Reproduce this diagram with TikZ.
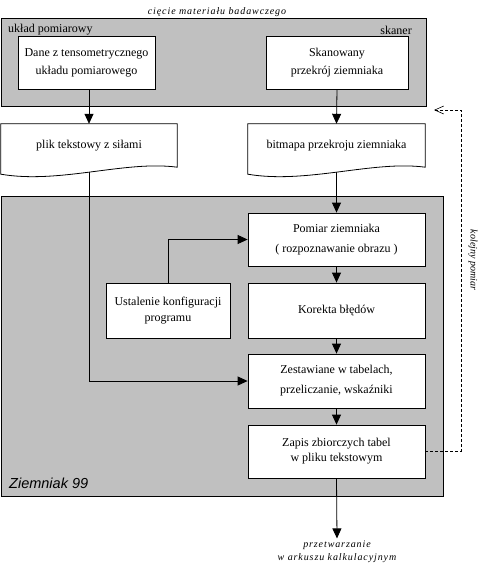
\documentclass[tikz,border=0pt]{standalone}
\usepackage{fontspec}
\setmainfont{Liberation Serif}
\newfontfamily\sansfam{Liberation Sans}
\newfontfamily\spacedit[LetterSpace=9]{Liberation Serif}
\usetikzlibrary{arrows.meta}
\definecolor{panelgray}{HTML}{C0C0C0}
\begin{document}
\begin{tikzpicture}[x=1pt,y=-1pt,
  box/.style={draw, fill=white, line width=0.8pt, inner sep=0pt, align=center, font=\fontsize{12}{18}\selectfont},
  doctext/.style={inner sep=0pt, align=center, font=\fontsize{12}{18}\selectfont, minimum width=176pt, minimum height=43pt},
  docshape/.style={draw, fill=white, line width=0.8pt},
  panel/.style={draw, fill=panelgray, line width=0.8pt, inner sep=0pt},
  arr/.style={line width=0.8pt, -{Triangle[length=10pt,width=9pt]}},
  lbl/.style={font=\spacedit\itshape\fontsize{10}{13}\selectfont, inner sep=2pt},
  plain/.style={font=\fontsize{12}{14}\selectfont, inner sep=0pt}]
\useasboundingbox (0,0) rectangle (486,571);

% panels
\node[panel, minimum width=425pt, minimum height=88pt] (toppanel) at (213.5,62) {};
\node[panel, minimum width=442pt, minimum height=300pt] (lowpanel) at (222,346) {};

% labels on panels
\node[lbl] (cut) at (217,12) {cięcie materiału badawczego};
\node[plain, anchor=west] (ukl) at (8,30) {układ pomiarowy};
\node[plain, anchor=east] (skl) at (412,30) {skaner};
\node[font=\sansfam\itshape\fontsize{14.5}{16}\selectfont, anchor=west, inner sep=0pt] (zl) at (9,483) {Ziemniak 99};

% document text nodes (outline drawn later)
\node[doctext] (plik) at (89,145.5) {};
\node[doctext, minimum width=177pt] (bitmapa) at (336.5,145.5) {};

% boxes
\node[box, minimum width=137pt, minimum height=53pt] (dane) at (86.5,62.5) {Dane z tensometrycznego\\układu pomiarowego};
\node[box, minimum width=142pt, minimum height=53pt] (skan) at (337,62.5) {Skanowany\\przekrój ziemniaka};
\node[box, minimum width=177pt, minimum height=53pt, font=\fontsize{12}{20}\selectfont] (pomiar) at (336.5,239.5) {Pomiar ziemniaka\\( rozpoznawanie obrazu )};
\node[box, minimum width=177pt, minimum height=55pt] (korekta) at (336.5,310.5) {Korekta błędów};
\node[box, minimum width=124pt, minimum height=55pt, font=\fontsize{12}{16}\selectfont] (ust) at (168,310.5) {Ustalenie konfiguracji\\programu};
\node[box, minimum width=177pt, minimum height=54pt, font=\fontsize{12}{20}\selectfont] (zest) at (336.5,381) {Zestawiane w tabelach,\\przeliczanie, wskaźniki};
\node[box, minimum width=177pt, minimum height=53pt, font=\fontsize{12}{15}\selectfont] (zapis) at (336.5,451.5) {Zapis zbiorczych tabel\\w pliku tekstowym};

\node[lbl, align=center] (out) at (337,551.5) {przetwarzanie\\w arkuszu kalkulacyjnym};
\node[font=\itshape\fontsize{10}{13}\selectfont, inner sep=2pt, rotate=-90] (kolejny) at (473,260) {kolejny pomiar};

% connectors
\draw[arr] (dane.south -| plik.north) -- (plik.north);
\draw[arr] (skan.south) -- (bitmapa.north);
\draw[arr] ([yshift=-4pt]plik.south) |- (zest.west);
\draw[arr] ([yshift=-4pt]bitmapa.south) -- (pomiar.north);
\draw[arr] (ust.north) |- (pomiar.west);
\draw[arr] (pomiar.south) -- (korekta.north);
\draw[arr] (korekta.south) -- (zest.north);
\draw[arr] (zest.south) -- (zapis.north);
\draw[arr] (zapis.south) -- (out.north);
\coordinate (back) at (434,110);
\draw[line width=0.6pt, dash pattern=on 3pt off 2pt, -{Straight Barb[length=9pt,width=8pt]}] (zapis.east) -- (461,451.5) -- (461,110) -- (back);

% document outlines
\draw[docshape] (plik.north west) -- (plik.north east) -- (plik.south east) .. controls +(-52,-7) and +(59,10) .. ([yshift=-7pt]plik.south west) -- cycle;
\draw[docshape] (bitmapa.north west) -- (bitmapa.north east) -- (bitmapa.south east) .. controls +(-52,-7) and +(59,10) .. ([yshift=-7pt]bitmapa.south west) -- cycle;
\node[font=\fontsize{12}{14}\selectfont] (pliktxt) at (plik) {plik tekstowy z siłami};
\node[font=\fontsize{12}{14}\selectfont] (bittxt) at (bitmapa) {bitmapa przekroju ziemniaka};
\end{tikzpicture}
\end{document}
